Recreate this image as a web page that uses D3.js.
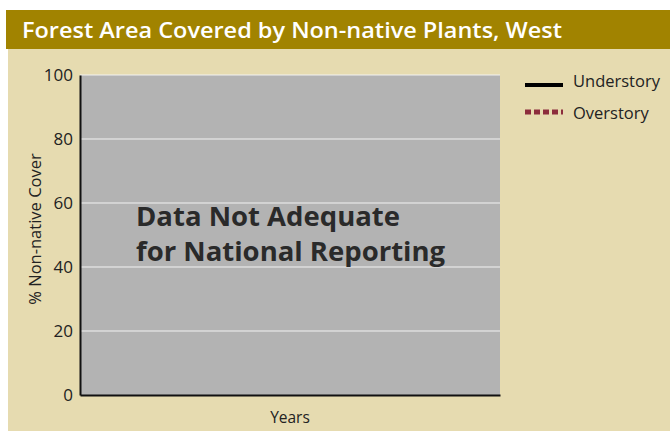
<!DOCTYPE html>
<html lang="en">
  <head>
    <meta charset="UTF-8" />
    <title>Forest Area Covered by Non-native Plants, West</title>
    <style>
      body { margin: 0; background: #fff; }
      svg { display: block; font-family: 'Open Sans', 'DejaVu Sans', sans-serif; }
    </style>
  </head>
  <body>
    <div id="main"></div>
    <script src="https://cdn.jsdelivr.net/npm/d3@7"></script>
    <script>
      const [width, height] = [670, 434]
      const yTicks = [0, 20, 40, 60, 80, 100]
      const seriesNames = ['Understory', 'Overstory']
      const seriesColors = ['#000000', '#8c2d3c']
      const seriesDash = [null, '6,3']
      // no values reported for the West region
      const understory = []
      const overstory = []

      const svg = d3.select('#main')
        .append('svg')
        .attr('width', width)
        .attr('height', height)

      // header band + beige panel
      svg.append('rect').attr('x', 6).attr('y', 10).attr('width', width - 6).attr('height', 39).attr('fill', '#a18300')
      svg.append('rect').attr('x', 8).attr('y', 49).attr('width', width - 8).attr('height', 382).attr('fill', '#e6dbb0')
      svg.append('text')
        .attr('x', 22).attr('y', 38)
        .attr('fill', '#fff')
        .attr('textLength', 540)
        .attr('lengthAdjust', 'spacingAndGlyphs')
        .style('font-size', '22px')
        .style('font-weight', 600)
        .text('Forest Area Covered by Non-native Plants, West')

      const x = d3.scaleLinear().domain([0, 1]).range([80, 500])
      const y = d3.scaleLinear().domain([0, 100]).range([395, 75])

      svg.append('rect')
        .attr('x', x(0)).attr('y', y(100))
        .attr('width', x(1) - x(0)).attr('height', y(0) - y(100))
        .attr('fill', '#b3b3b3')

      svg.append('g')
        .selectAll('line')
        .data(yTicks.filter(d => d > 0))
        .join('line')
        .attr('x1', x(0)).attr('x2', x(1))
        .attr('y1', d => y(d)).attr('y2', d => y(d))
        .attr('stroke', '#f2f2f2').attr('stroke-width', 1)

      const yAxis = svg.append('g')
        .attr('transform', `translate(${x(0)}, 0)`)
        .call(d3.axisLeft(y).tickValues(yTicks).tickSize(0).tickPadding(7))
      yAxis.select('.domain').attr('stroke', '#111').attr('stroke-width', 2)
      yAxis.selectAll('text').style('font-size', '17px').attr('fill', '#222').style('font-family', "'Open Sans', sans-serif")

      const xAxis = svg.append('g')
        .attr('transform', `translate(0, ${y(0)})`)
        .call(d3.axisBottom(x).tickValues([]).tickSizeOuter(0))
      xAxis.select('.domain').attr('stroke', '#111').attr('stroke-width', 2)

      // series lines (empty)
      const line = d3.line().x((d, i) => x(i)).y(d => y(d))
      ;[understory, overstory].forEach((data, i) => {
        if (!data.length) return
        svg.append('path').datum(data)
          .attr('d', line).attr('fill', 'none')
          .attr('stroke', seriesColors[i])
          .attr('stroke-dasharray', seriesDash[i])
          .attr('stroke-width', 3)
      })

      svg.append('text')
        .attr('transform', `translate(35, 229) rotate(-90)`)
        .attr('text-anchor', 'middle')
        .attr('dy', '0.35em')
        .attr('fill', '#222')
        .style('font-size', '16.5px')
        .text('% Non-native Cover')

      svg.append('text')
        .attr('x', 290).attr('y', 418).attr('dy', '0.35em')
        .attr('text-anchor', 'middle')
        .attr('fill', '#222')
        .style('font-size', '15.5px')
        .text('Years')

      const msg = svg.append('text')
        .attr('x', 136).attr('y', 226)
        .attr('fill', '#2a2a2a')
        .style('font-size', '27.5px')
        .style('font-weight', 700)
      msg.append('tspan').attr('x', 136).text('Data Not Adequate')
      msg.append('tspan').attr('x', 136).attr('dy', 35).text('for National Reporting')

      const legend = svg.append('g')
        .selectAll('g')
        .data(seriesNames)
        .join('g')
        .attr('transform', (_, i) => `translate(525, ${85 + i * 27})`)
      legend.append('line')
        .attr('x1', 0).attr('x2', 38)
        .attr('stroke', (_, i) => seriesColors[i])
        .attr('stroke-width', (_, i) => i ? 5 : 4)
        .attr('stroke-dasharray', (_, i) => seriesDash[i])
      legend.append('text')
        .attr('x', 48).attr('y', (_, i) => i ? 1 : -4).attr('dy', '0.35em')
        .attr('fill', '#222')
        .style('font-size', '16.5px')
        .text(d => d)
    </script>
  </body>
</html>
